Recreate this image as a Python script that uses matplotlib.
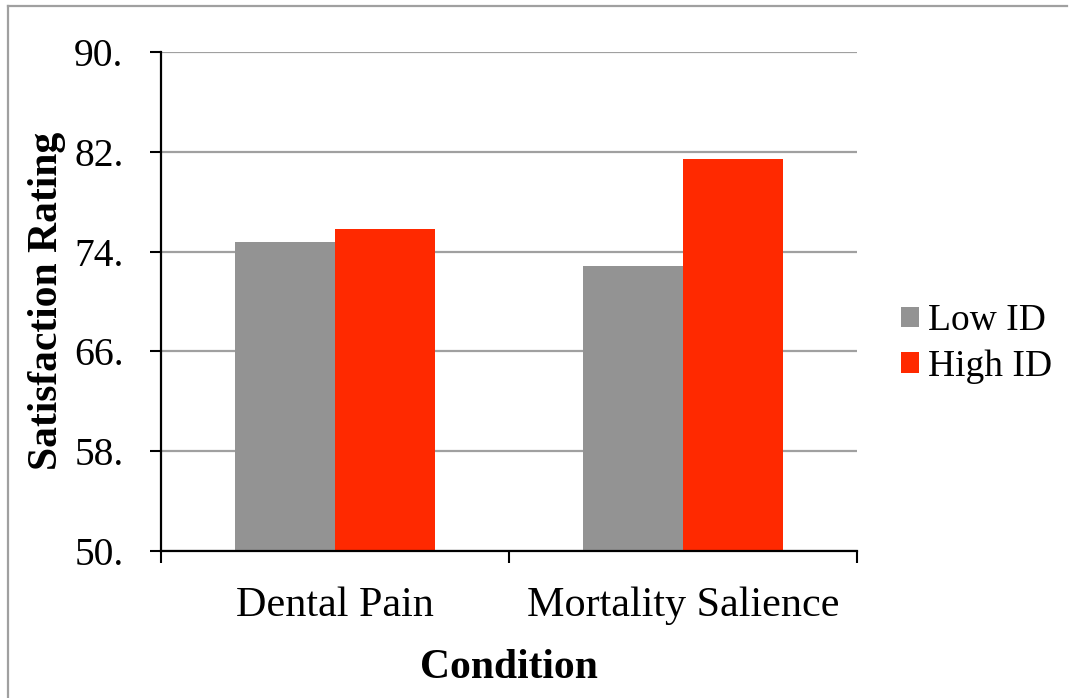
import matplotlib
matplotlib.use("Agg")
import matplotlib.pyplot as plt
from matplotlib.lines import Line2D
import numpy as np

categories = ["Dental Pain", "Mortality Salience"]
series_names = ["Low ID", "High ID"]
low_id = [74.8, 72.85]
high_id = [75.8, 81.4]
y_ticks = [50, 58, 66, 74, 82, 90]
y_tick_labels = ["50.", "58.", "66.", "74.", "82.", "90."]

colors = ["#939393", "#FF2900"]

plt.rcParams['font.family'] = ['Liberation Serif', 'DejaVu Serif']

W, H = 1077, 698
fig = plt.figure(figsize=(W / 100, H / 100), dpi=100)
ax = fig.add_axes([161 / W, 1 - 551 / H, (857 - 161) / W, (551 - 52) / H])

x = np.arange(len(categories))
bw = 100 / 347
ax.bar(x - bw / 2, low_id, bw, color=colors[0], label=series_names[0], zorder=3)
ax.bar(x + bw / 2, high_id, bw, color=colors[1], label=series_names[1], zorder=3)

ax.set_xlim(-0.5, len(categories) - 0.5)
ax.set_ylim(y_ticks[0], y_ticks[-1])
ax.set_yticks(y_ticks)
ax.set_yticklabels(y_tick_labels, fontsize=28.5)
ax.set_xticks(x)
ax.set_xticklabels(categories, fontsize=30.3)
ax.set_xticks(np.arange(len(categories) + 1) - 0.5, minor=True)
ax.tick_params(axis='x', which='major', length=0, pad=25.5)
ax.tick_params(axis='x', which='minor', length=8.5, width=1.5, direction='out')
ax.tick_params(axis='y', which='major', length=8, width=1.5, direction='out', pad=19)

ax.grid(axis='y', color='#A0A0A0', linewidth=1.6, zorder=0)
ax.set_axisbelow(True)
for s in ['top', 'right']:
    ax.spines[s].set_visible(False)
for s in ['left', 'bottom']:
    ax.spines[s].set_linewidth(1.6)
    ax.spines[s].set_color('black')
    ax.spines[s].set_zorder(4)

fig.text(47 / W, 1 - 301 / H, "Satisfaction Rating", rotation=90, ha='center', va='center',
         fontsize=30, fontweight='bold')
fig.text(509 / W, 1 - 678 / H, "Condition", ha='center', va='baseline',
         fontsize=30, fontweight='bold')

leg = fig.legend(loc='center left', bbox_to_anchor=(901 / W, 1 - 344 / H), frameon=False,
                 fontsize=27, handlelength=0.48, handleheight=0.48, handletextpad=0.25,
                 labelspacing=0.3, borderaxespad=0, borderpad=0)

# outer frame (top and left visible)
fig.add_artist(Line2D([8 / W, 8 / W], [0, 1 - 6 / H], color='#A0A0A0', linewidth=1.6,
                      transform=fig.transFigure))
fig.add_artist(Line2D([8 / W, 1067 / W], [1 - 6 / H, 1 - 6 / H], color='#A0A0A0', linewidth=1.6,
                      transform=fig.transFigure))

fig.savefig("out.png", dpi=100)
